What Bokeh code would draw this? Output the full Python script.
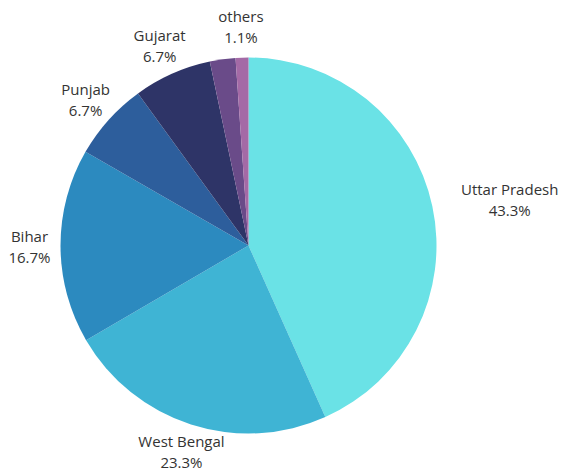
import math
from bokeh.plotting import figure
from bokeh.models import ColumnDataSource
from bokeh.embed import file_html
from bokeh.resources import INLINE
from bokeh.core.properties import value

states = ["Uttar Pradesh", "West Bengal", "Bihar", "Punjab", "Gujarat", "", "others"]
shares = [43.3, 23.3, 16.7, 6.7, 6.7, 2.2, 1.1]
pct_labels = ["43.3%", "23.3%", "16.7%", "6.7%", "6.7%", "", "1.1%"]
colors = ["#6AE2E6", "#3FB4D4", "#2C8ABF", "#2D5E9C", "#2E3467", "#6A4B89", "#A46AA6"]

W, H = 561, 473
cx, cy, R = 248, 228, 188
label_r = 1.165
label_shift = [47, 0, 0, 0, 0, 0, 0]
label_vshift = [0, 2.5, 0, 0, 0, 0, 0]

total = sum(shares)
starts, ends, lx, ly = [], [], [], []
cum = 0.0
for i, s in enumerate(shares):
    a0 = math.pi / 2 - 2 * math.pi * (cum + s) / total
    a1 = math.pi / 2 - 2 * math.pi * cum / total
    starts.append(a0)
    ends.append(a1)
    mid = (a0 + a1) / 2
    lx.append(cx + R * label_r * math.cos(mid) + label_shift[i])
    ly.append(cy + R * label_r * math.sin(mid) + label_vshift[i])
    cum += s

src = ColumnDataSource(dict(start=starts, end=ends, color=colors, x=[cx] * len(shares), y=[cy] * len(shares)))

p = figure(width=W, height=H, x_range=(0, W), y_range=(0, H), output_backend="svg",
           toolbar_location=None, min_border=0, outline_line_color=None)
p.axis.visible = False
p.grid.visible = False
p.background_fill_color = "white"

p.wedge(x="x", y="y", radius=R, radius_units="screen", start_angle="start", end_angle="end",
        fill_color="color", line_color=None, source=src)

tsrc = ColumnDataSource(dict(x=lx, y1=[v + 10.5 for v in ly], y2=[v - 10.5 for v in ly], n=states, pc=pct_labels))
for col, yk in (("n", "y1"), ("pc", "y2")):
    p.text(x="x", y=yk, text=col, source=tsrc, text_align="center", text_baseline="middle",
           text_font=value("Open Sans"), text_font_size="15px", text_color="#333333")

open("out.html", "w").write(file_html(p, INLINE))
